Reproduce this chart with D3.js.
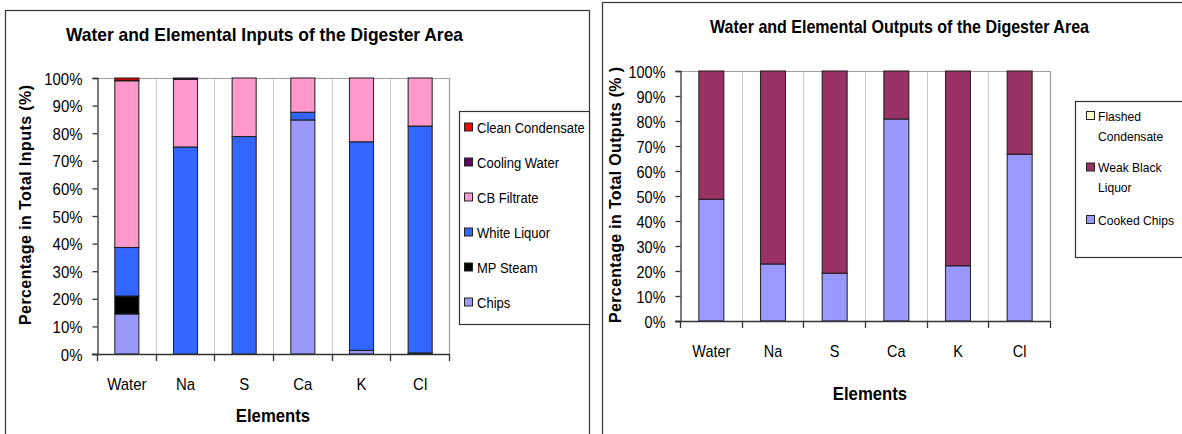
<!DOCTYPE html>
<html>
<head>
<meta charset="utf-8">
<script src="https://cdn.jsdelivr.net/npm/d3@7"></script>
<style>
  body { margin: 0; background: #fff; }
  svg { display: block; }
  text { font-family: "Liberation Sans", Arial, sans-serif; fill: #000; }
</style>
</head>
<body>
<svg id="chart" width="1182" height="434"></svg>
<script>
// ---- data -------------------------------------------------------------
const elements = ["Water", "Na", "S", "Ca", "K", "Cl"];
const percentTicks = [0, 10, 20, 30, 40, 50, 60, 70, 80, 90, 100];

// Inputs to the digester area (% of total input per element), bottom to top
const inputSeries = ["Chips", "MP Steam", "White Liquor", "CB Filtrate", "Cooling Water", "Clean Condensate"];
const inputColors = ["#9999FF", "#000000", "#3366FF", "#FF99CC", "#660066", "#FF0000"];
const chips           = [14.5, 0.0, 0.0, 84.8, 1.3, 0.0];
const mpSteam         = [6.5, 0.0, 0.0, 0.0, 0.0, 0.4];
const whiteLiquor     = [17.6, 75.0, 78.8, 2.8, 75.6, 82.2];
const cbFiltrate      = [60.4, 24.5, 21.2, 12.4, 23.1, 17.4];
const coolingWater    = [0.2, 0.5, 0.0, 0.0, 0.0, 0.0];
const cleanCondensate = [0.8, 0.0, 0.0, 0.0, 0.0, 0.0];

// Outputs from the digester area, bottom to top
const outputSeries = ["Cooked Chips", "Weak Black Liquor", "Flashed Condensate"];
const outputColors = ["#9999FF", "#993366", "#FFFFCC"];
const cookedChips       = [48.7, 22.8, 19.1, 80.8, 22.1, 66.7];
const weakBlackLiquor   = [51.3, 77.2, 80.9, 19.2, 77.9, 33.3];
const flashedCondensate = [0.0, 0.0, 0.0, 0.0, 0.0, 0.0];

// ---- helpers ----------------------------------------------------------
const svg = d3.select("#chart");

// squeeze a text run horizontally (condensed lettering)
function squeeze(sel, ratio) {
  sel.each(function () {
    const w = this.getComputedTextLength();
    d3.select(this).attr("textLength", w * ratio).attr("lengthAdjust", "spacingAndGlyphs");
  });
  return sel;
}

function drawChart(cfg) {
  const g = svg.append("g");

  // outer chart frame
  g.append("rect")
    .attr("x", cfg.frame[0] + 0.5).attr("y", cfg.frame[1] + 0.5)
    .attr("width", cfg.frame[2]).attr("height", cfg.frame[3])
    .attr("fill", "none").attr("stroke", "#333").attr("stroke-width", 1.2);

  const [x0, x1, y0, y1] = cfg.plot; // left, right, top, bottom

  const x = d3.scaleBand().domain(elements).range([x0, x1])
    .paddingInner(cfg.pad).paddingOuter(cfg.pad / 2);
  const y = d3.scaleLinear().domain([0, 100]).range([y1, y0]);
  const step = x.step();

  // vertical gridlines at category boundaries + plot border (top/right)
  const bounds = elements.map(d => x(d) - step * cfg.pad / 2).concat([x1]);
  g.selectAll(".grid").data(bounds.slice(1, -1)).join("line")
    .attr("x1", d => Math.round(d) + 0.5).attr("x2", d => Math.round(d) + 0.5)
    .attr("y1", y0).attr("y2", y1)
    .attr("stroke", "#c8c8c8").attr("stroke-width", 1);
  g.append("path")
    .attr("d", `M${x0},${y0 + 0.5}H${x1 + 0.5}V${y1}`)
    .attr("fill", "none").attr("stroke", "#a0a0a0").attr("stroke-width", 1.2);

  // stacked bars
  const rows = elements.map((e, i) => {
    const r = { element: e };
    cfg.series.forEach((s, j) => { r[s] = cfg.values[j][i]; });
    return r;
  });
  const stacked = d3.stack().keys(cfg.series)(rows);
  const layers = g.selectAll(".layer").data(stacked).join("g")
    .attr("fill", (d, i) => cfg.colors[i]);
  layers.selectAll("rect").data(d => d.filter(p => p[1] - p[0] > 0)).join("rect")
    .attr("x", p => x(p.data.element) + 0.5)
    .attr("width", x.bandwidth())
    .attr("y", p => y(p[1]))
    .attr("height", p => y(p[0]) - y(p[1]))
    .attr("stroke", "#1a1a1a").attr("stroke-width", 1.1).attr("stroke-opacity", 0.9);

  // y axis
  const ya = g.append("g").attr("transform", `translate(${x0 + 0.5},0)`)
    .call(d3.axisLeft(y).tickValues(percentTicks).tickFormat(d => d + "%")
      .tickSize(5).tickPadding(10));
  ya.select(".domain").attr("stroke", "#333").attr("stroke-width", 1.3);
  ya.selectAll(".tick line").attr("stroke", "#333").attr("stroke-width", 1.3);
  ya.selectAll(".tick text").attr("font-size", cfg.tickFont).attr("font-family", null)
    .attr("dy", "0.36em").call(squeeze, cfg.tickRatio);

  // x axis: boundary ticks and centred labels
  const xa = g.append("g");
  xa.append("line").attr("x1", x0 - 5).attr("x2", x1 + 0.5)
    .attr("y1", y1 + 0.5).attr("y2", y1 + 0.5).attr("stroke", "#333").attr("stroke-width", 1.3);
  xa.selectAll(".bt").data(bounds).join("line")
    .attr("x1", d => Math.round(d) + 0.5).attr("x2", d => Math.round(d) + 0.5)
    .attr("y1", y1).attr("y2", y1 + 7).attr("stroke", "#333").attr("stroke-width", 1.3);
  xa.selectAll("text").data(elements).join("text")
    .attr("x", d => x(d) + x.bandwidth() / 2 + 0.5)
    .attr("y", cfg.xLabelY)
    .attr("text-anchor", "middle").attr("font-size", cfg.tickFont)
    .text(d => d).call(squeeze, cfg.tickRatio);

  // titles
  g.append("text").attr("x", cfg.titlePos[0]).attr("y", cfg.titlePos[1])
    .attr("text-anchor", "middle").attr("font-weight", "bold").attr("font-size", 19)
    .attr("textLength", cfg.titleWidth).attr("lengthAdjust", "spacingAndGlyphs")
    .text(cfg.title);
  g.append("text").attr("x", cfg.xTitlePos[0]).attr("y", cfg.xTitlePos[1])
    .attr("text-anchor", "middle").attr("font-weight", "bold").attr("font-size", 19)
    .text("Elements").call(squeeze, 0.88);
  g.append("text")
    .attr("transform", `translate(${cfg.yTitlePos[0]},${cfg.yTitlePos[1]}) rotate(-90)`)
    .attr("text-anchor", "middle").attr("dominant-baseline", "central")
    .attr("font-weight", "bold").attr("font-size", 16)
    .attr("textLength", cfg.yTitleLen).attr("lengthAdjust", "spacing")
    .text(cfg.yTitle);

  // legend
  const L = cfg.legend;
  g.append("rect").attr("x", L.box[0] + 0.5).attr("y", L.box[1] + 0.5)
    .attr("width", L.box[2]).attr("height", L.box[3])
    .attr("fill", "#fff").attr("stroke", "#333").attr("stroke-width", 1.2);
  const lg = g.append("g");
  L.items.forEach(it => {
    const idx = cfg.series.indexOf(it.key);
    lg.append("rect").attr("x", L.swatchX + 0.5).attr("y", it.y - 4.5)
      .attr("width", 8).attr("height", 8)
      .attr("fill", cfg.colors[idx]).attr("stroke", "#222").attr("stroke-width", 1);
    it.lines.forEach((ln, m) => {
      lg.append("text").attr("x", L.textX).attr("y", it.y + m * L.lineGap)
        .attr("dy", "0.36em").attr("font-size", L.font)
        .text(ln).call(squeeze, L.ratio);
    });
  });
}

// ---- left chart: inputs -----------------------------------------------
drawChart({
  id: "in",
  frame: [5, 10, 584, 460],
  plot: [97, 449, 78, 354],
  pad: 0.59,
  series: inputSeries,
  colors: inputColors,
  values: [chips, mpSteam, whiteLiquor, cbFiltrate, coolingWater, cleanCondensate],
  tickFont: 17, tickRatio: 0.88,
  xLabelY: 390,
  title: "Water and Elemental Inputs of the Digester Area",
  titlePos: [264.5, 41], titleWidth: 397,
  xTitlePos: [273, 422],
  yTitle: "Percentage in Total Inputs (%)",
  yTitlePos: [25, 205], yTitleLen: 240,
  legend: {
    box: [459, 111, 130, 213],
    swatchX: 464, textX: 477, font: 14, ratio: 0.93, lineGap: 20,
    items: [
      { key: "Clean Condensate", lines: ["Clean Condensate"], y: 127.5 },
      { key: "Cooling Water", lines: ["Cooling Water"], y: 162.5 },
      { key: "CB Filtrate", lines: ["CB Filtrate"], y: 197.5 },
      { key: "White Liquor", lines: ["White Liquor"], y: 232.5 },
      { key: "MP Steam", lines: ["MP Steam"], y: 267.5 },
      { key: "Chips", lines: ["Chips"], y: 302.5 }
    ]
  }
});

// ---- right chart: outputs ---------------------------------------------
drawChart({
  id: "out",
  frame: [602, 2, 640, 480],
  plot: [680, 1050, 71, 321],
  pad: 0.595,
  series: outputSeries,
  colors: outputColors,
  values: [cookedChips, weakBlackLiquor, flashedCondensate],
  tickFont: 17, tickRatio: 0.85,
  xLabelY: 357,
  title: "Water and Elemental Outputs of the Digester Area",
  titlePos: [899.5, 33], titleWidth: 379,
  xTitlePos: [870, 400],
  yTitle: "Percentage in Total Outputs (% )",
  yTitlePos: [615, 195], yTitleLen: 256,
  legend: {
    box: [1075, 101, 200, 156],
    swatchX: 1086, textX: 1098, font: 13, ratio: 0.93, lineGap: 20,
    items: [
      { key: "Flashed Condensate", lines: ["Flashed", "Condensate"], y: 116 },
      { key: "Weak Black Liquor", lines: ["Weak Black", "Liquor"], y: 167.5 },
      { key: "Cooked Chips", lines: ["Cooked Chips"], y: 220 }
    ]
  }
});
</script>
</body>
</html>
